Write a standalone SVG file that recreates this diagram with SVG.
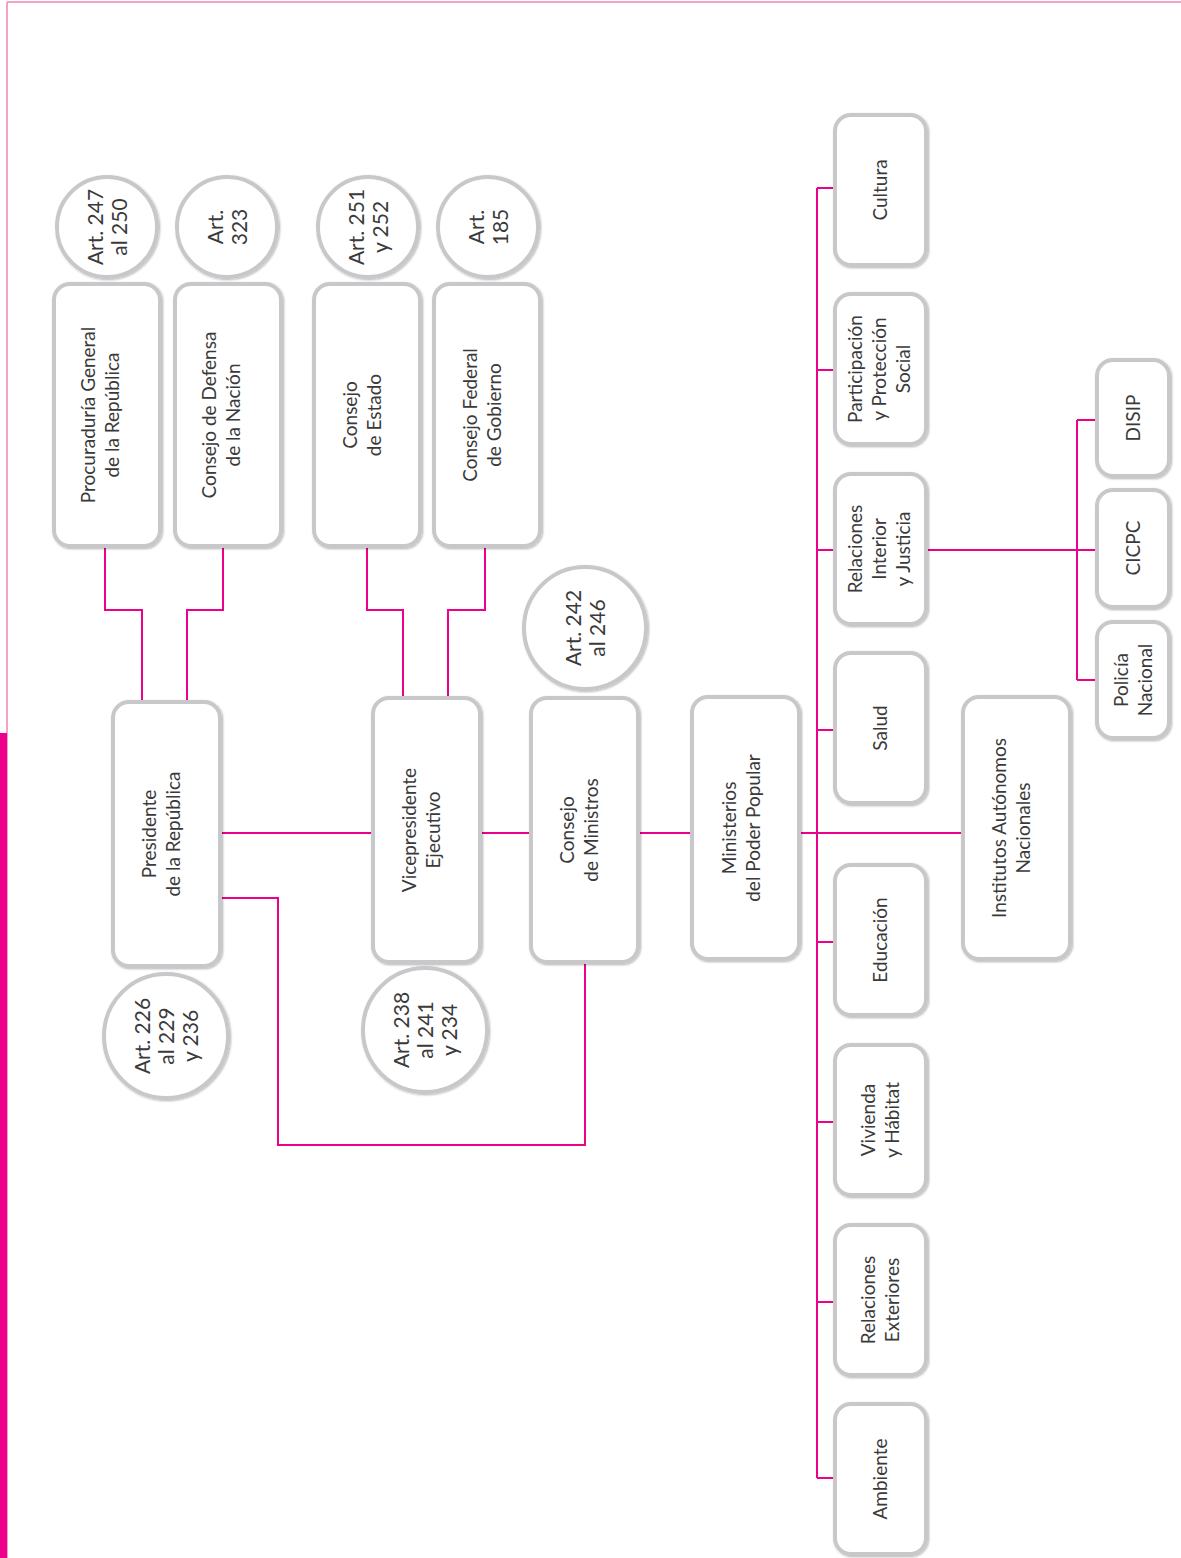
<svg xmlns="http://www.w3.org/2000/svg" width="1181" height="1558" viewBox="0 0 1181 1558">
<style>
.n rect,.c circle{fill:#fff;stroke:#c8c8cb;stroke-width:4;filter:url(#sh)}
.t{font-family:Lato,"Liberation Sans",sans-serif;font-size:19px;fill:#3a3a3a;text-anchor:middle}
.ct{font-family:Lato,"Liberation Sans",sans-serif;font-size:21px;fill:#3a3a3a;text-anchor:middle}
#links path{fill:none;stroke:#ec008c;stroke-width:2}
</style>
<defs>
<filter id="sh" x="-20%" y="-20%" width="140%" height="140%">
<feDropShadow dx="1" dy="1" stdDeviation="1.2" flood-color="#000" flood-opacity="0.3"/>
</filter>
</defs>
<rect width="1181" height="1558" fill="#fff"/>
<g id="frame">
<path d="M7 2H1181M7 2V1558" fill="none" stroke="#f4a3c7" stroke-width="2"/>
<rect x="0" y="733" width="7" height="825" fill="#ec008c"/>
</g>
<g id="links">
<path d="M220 833H963"/>
<path d="M220 898H278V1145H585V962"/>
<path d="M105 547V610H142V702"/>
<path d="M223 547V610H187V702"/>
<path d="M367 547V610H403V698"/>
<path d="M485 547V610H448V698"/>
<path d="M817 188V1478"/>
<path d="M817 188H835M817 370H835M817 550H835M817 730H835M817 942H835M817 1122H835M817 1302H835M817 1478H835"/>
<path d="M926 550H1097"/>
<path d="M1077 420V680M1077 420H1097M1077 680H1097"/>
</g>
<g id="proc" class="n"><rect x="54" y="284" width="106" height="262" rx="16"/><text class="t" transform="translate(95,415) rotate(-90)"><tspan x="0" y="0">Procuraduría General</tspan><tspan x="0" dy="24">de la República</tspan></text></g>
<g id="defensa" class="n"><rect x="175" y="284" width="106" height="262" rx="16"/><text class="t" transform="translate(216,415) rotate(-90)"><tspan x="0" y="0">Consejo de Defensa</tspan><tspan x="0" dy="24">de la Nación</tspan></text></g>
<g id="estado" class="n"><rect x="314" y="284" width="106" height="262" rx="16"/><text class="t" transform="translate(357,415) rotate(-90)"><tspan x="0" y="0">Consejo</tspan><tspan x="0" dy="24">de Estado</tspan></text></g>
<g id="federal" class="n"><rect x="434" y="284" width="106" height="262" rx="16"/><text class="t" transform="translate(477,415) rotate(-90)"><tspan x="0" y="0">Consejo Federal</tspan><tspan x="0" dy="24">de Gobierno</tspan></text></g>
<g id="presidente" class="n"><rect x="113" y="702" width="107" height="264" rx="16"/><text class="t" transform="translate(156,834) rotate(-90)"><tspan x="0" y="0">Presidente</tspan><tspan x="0" dy="24">de la República</tspan></text></g>
<g id="vice" class="n"><rect x="373" y="698" width="107" height="264" rx="16"/><text class="t" transform="translate(416,830) rotate(-90)"><tspan x="0" y="0">Vicepresidente</tspan><tspan x="0" dy="24">Ejecutivo</tspan></text></g>
<g id="consejoMin" class="n"><rect x="531" y="698" width="107" height="264" rx="16"/><text class="t" transform="translate(574,830) rotate(-90)"><tspan x="0" y="0">Consejo</tspan><tspan x="0" dy="24">de Ministros</tspan></text></g>
<g id="ministerios" class="n"><rect x="692" y="697" width="107" height="262" rx="16"/><text class="t" transform="translate(736,828) rotate(-90)"><tspan x="0" y="0">Ministerios</tspan><tspan x="0" dy="24">del Poder Popular</tspan></text></g>
<g id="institutos" class="n"><rect x="963" y="697" width="107" height="262" rx="16"/><text class="t" transform="translate(1006,828) rotate(-90)"><tspan x="0" y="0">Institutos Autónomos</tspan><tspan x="0" dy="24">Nacionales</tspan></text></g>
<g id="cultura" class="n"><rect x="835" y="115" width="91" height="150" rx="16"/><text class="t" transform="translate(887,190) rotate(-90)">Cultura</text></g>
<g id="participacion" class="n"><rect x="835" y="294" width="91" height="150" rx="16"/><text class="t" transform="translate(862,369) rotate(-90)"><tspan x="0" y="0">Participación</tspan><tspan x="0" dy="24">y Protección</tspan><tspan x="0" dy="24">Social</tspan></text></g>
<g id="rij" class="n"><rect x="835" y="474" width="91" height="150" rx="16"/><text class="t" transform="translate(862,549) rotate(-90)"><tspan x="0" y="0">Relaciones</tspan><tspan x="0" dy="24">Interior</tspan><tspan x="0" dy="24">y Justicia</tspan></text></g>
<g id="salud" class="n"><rect x="835" y="653" width="91" height="150" rx="16"/><text class="t" transform="translate(887,728) rotate(-90)">Salud</text></g>
<g id="educacion" class="n"><rect x="835" y="865" width="91" height="150" rx="16"/><text class="t" transform="translate(887,940) rotate(-90)">Educación</text></g>
<g id="vivienda" class="n"><rect x="835" y="1045" width="91" height="150" rx="16"/><text class="t" transform="translate(875,1120) rotate(-90)"><tspan x="0" y="0">Vivienda</tspan><tspan x="0" dy="24">y Hábitat</tspan></text></g>
<g id="exteriores" class="n"><rect x="835" y="1225" width="91" height="150" rx="16"/><text class="t" transform="translate(875,1300) rotate(-90)"><tspan x="0" y="0">Relaciones</tspan><tspan x="0" dy="24">Exteriores</tspan></text></g>
<g id="ambiente" class="n"><rect x="835" y="1404" width="91" height="150" rx="16"/><text class="t" transform="translate(887,1479) rotate(-90)">Ambiente</text></g>
<g id="disip" class="n"><rect x="1097" y="360" width="72" height="116" rx="16"/><text class="t" transform="translate(1140,418) rotate(-90)">DISIP</text></g>
<g id="cicpc" class="n"><rect x="1097" y="490" width="72" height="117" rx="16"/><text class="t" transform="translate(1140,548) rotate(-90)">CICPC</text></g>
<g id="policia" class="n"><rect x="1097" y="622" width="72" height="116" rx="16"/><text class="t" transform="translate(1128,680) rotate(-90)"><tspan x="0" y="0">Policía</tspan><tspan x="0" dy="24">Nacional</tspan></text></g>
<g id="art247" class="c"><circle cx="107" cy="227" r="50"/><text class="ct" transform="translate(103,227) rotate(-90)"><tspan x="0" y="0">Art. 247</tspan><tspan x="0" dy="24">al 250</tspan></text></g>
<g id="art323" class="c"><circle cx="227" cy="227" r="50"/><text class="ct" transform="translate(223,227) rotate(-90)"><tspan x="0" y="0">Art.</tspan><tspan x="0" dy="24">323</tspan></text></g>
<g id="art251" class="c"><circle cx="368" cy="227" r="50"/><text class="ct" transform="translate(364,227) rotate(-90)"><tspan x="0" y="0">Art. 251</tspan><tspan x="0" dy="24">y 252</tspan></text></g>
<g id="art185" class="c"><circle cx="488" cy="227" r="50"/><text class="ct" transform="translate(484,227) rotate(-90)"><tspan x="0" y="0">Art.</tspan><tspan x="0" dy="24">185</tspan></text></g>
<g id="art226" class="c"><circle cx="166" cy="1036" r="62"/><text class="ct" transform="translate(150,1036) rotate(-90)"><tspan x="0" y="0">Art. 226</tspan><tspan x="0" dy="24">al 229</tspan><tspan x="0" dy="24">y 236</tspan></text></g>
<g id="art238" class="c"><circle cx="425" cy="1030" r="62"/><text class="ct" transform="translate(409,1030) rotate(-90)"><tspan x="0" y="0">Art. 238</tspan><tspan x="0" dy="24">al 241</tspan><tspan x="0" dy="24">y 234</tspan></text></g>
<g id="art242" class="c"><circle cx="585" cy="628" r="61"/><text class="ct" transform="translate(581,628) rotate(-90)"><tspan x="0" y="0">Art. 242</tspan><tspan x="0" dy="24">al 246</tspan></text></g>
</svg>
